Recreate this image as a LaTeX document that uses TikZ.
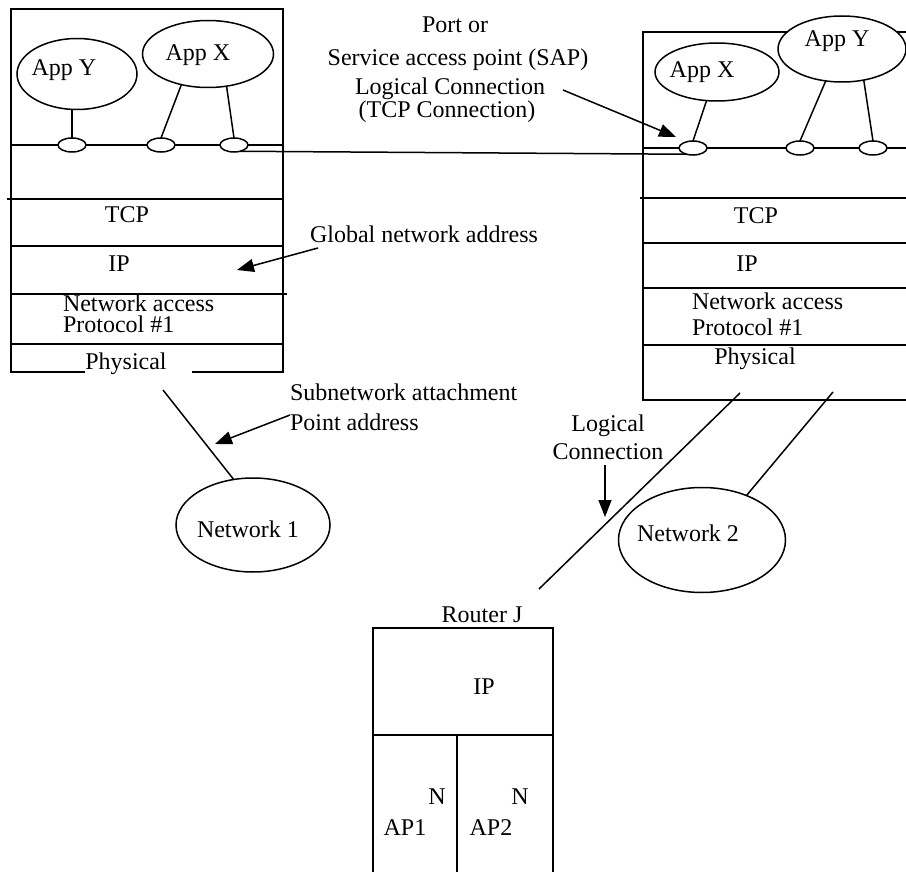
\documentclass[tikz,border=0pt]{standalone}
\usepackage{fontspec}
\setmainfont{Liberation Serif}
\usetikzlibrary{shapes.geometric,arrows.meta}
\begin{document}
\begin{tikzpicture}[x=1pt,y=-1pt,line width=1.5pt,
  every node/.style={inner sep=0pt,outer sep=0pt,font=\fontsize{24}{28}\selectfont},
  txt/.style={text height=16pt,text depth=0pt},
  app/.style={ellipse,draw,fill=white},
  port/.style={ellipse,draw,fill=white,minimum width=28pt,minimum height=14pt},
  net/.style={ellipse,draw},
  pointer/.style={-{Triangle[length=17pt,width=13pt]}}]
\useasboundingbox (0,0) rectangle (906,872);

% ---- host A protocol stack ----
\draw (85,372) -- (11,372) -- (11,9) -- (283,9) -- (283,372) -- (192,372);
\draw (7,199) -- (283,199);
\draw (11,246) -- (283,246);
\draw (11,294) -- (287,294);
\draw (11,344) -- (283,344);
\draw (11,145) -- (283,145);

% ---- host B protocol stack ----
\draw (906,32) -- (643,32) -- (643,400) -- (906,400);
\draw (640,198) -- (906,198);
\draw (643,243) -- (906,243);
\draw (643,288) -- (906,288);
\draw (643,345) -- (906,345);
\draw (643,148) -- (906,148);

% ---- applications on host A ----
\node[app,minimum width=120pt,minimum height=71pt] (LappY) at (77,74) {};
\node[txt] (LappYt) at (64,68) {App Y};
\node[app,minimum width=131pt,minimum height=67pt] (LappX) at (208,54) {};
\node[txt] (LappXt) at (198,53) {App X};
\node[port] (LpY) at (72,145) {};
\node[port] (LpX1) at (161,145) {};
\node[port] (LpX2) at (234,145) {};
\draw (LpY.north) -- (LpY.north |- LappY.south);
\draw (LappX.229) -- (LpX1.north);
\draw (LappX.300) -- (LpX2.north);

% ---- applications on host B ----
\node[app,minimum width=124pt,minimum height=58pt] (RappX) at (717,72) {};
\node[txt] (RappXt) at (702,70) {App X};
\node[app,minimum width=128pt,minimum height=66pt] (RappY) at (842,49) {};
\node[txt] (RappYt) at (837,39) {App Y};
\node[port] (RpX) at (693,148) {};
\node[port] (RpY1) at (800,148) {};
\node[port] (RpY2) at (873,148) {};
\draw (RappX.250) -- (RpX.north);
\draw (RappY.243) -- (RpY1.north);
\draw (RappY.305) -- (RpY2.north);

% logical (TCP) connection between the two ports
\draw (LpX2.-45) -- (RpX.225);

% ---- layer labels, host A ----
\node[txt] (LTCP) at (127,215) {TCP};
\node[txt] (LIP) at (119,264) {IP};
\node[txt,anchor=west] (LNA1) at (63,303) {Network access};
\node[txt,anchor=west] (LNA2) at (63,324) {Protocol \#1};
\node[txt] (LPhy) at (126,361) {Physical};

% ---- layer labels, host B ----
\node[txt] (RTCP) at (756,216) {TCP};
\node[txt] (RIP) at (747,264) {IP};
\node[txt,anchor=west] (RNA1) at (692,301) {Network access};
\node[txt,anchor=west] (RNA2) at (692,327) {Protocol \#1};
\node[txt] (RPhy) at (755,356) {Physical};

% ---- port / SAP annotation ----
\node[txt] (sapA) at (455,25) {Port or};
\node[txt] (sapB) at (458,58) {Service access point (SAP)};
\node[txt] (sapC) at (450,87) {Logical Connection};
\node[txt] (sapD) at (447,110) {(TCP Connection)};
\coordinate (sapTail) at (563,90);
\coordinate (sapTip) at (676,137);
\draw[pointer] (sapTail) -- (sapTip);

% ---- global address annotation ----
\node[txt,anchor=west] (gna) at (310,235) {Global network address};
\coordinate (gnaTail) at (318,248);
\coordinate (gnaTip) at (237,270);
\draw[pointer] (gnaTail) -- (gnaTip);

% ---- networks ----
\node[net,minimum width=154pt,minimum height=94pt] (N1) at (253,525) {};
\node[txt] (N1t) at (248,529) {Network 1};
\node[net,minimum width=167pt,minimum height=105pt] (N2) at (702,540) {};
\node[txt] (N2t) at (688,533) {Network 2};

\coordinate (hAphy) at (163,390);
\draw (hAphy) -- (N1.113);
\coordinate (hBphyA) at (833,392);
\draw (hBphyA) -- (N2.45);
\coordinate (hBphyB) at (740,393);
\coordinate (rtrTop) at (539,589);
\draw (hBphyB) -- (rtrTop);

% ---- subnetwork attachment annotation ----
\node[txt,anchor=west] (sna1) at (290,392) {Subnetwork attachment};
\node[txt,anchor=west] (sna2) at (290,422) {Point address};
\coordinate (snaTail) at (290,415);
\coordinate (snaTip) at (215,444);
\draw[pointer] (snaTail) -- (snaTip);

% ---- logical connection annotation ----
\node[txt] (lcA) at (608,423) {Logical};
\node[txt] (lcB) at (608,451) {Connection};
\coordinate (lcTail) at (605,465);
\coordinate (lcTip) at (605,517);
\draw[pointer] (lcTail) -- (lcTip);

% ---- router ----
\node[txt] (rtrName) at (482,614) {Router J};
\draw (373,872) -- (373,628) -- (553,628) -- (553,872);
\draw (373,735) -- (553,735);
\draw (457,735) -- (457,872);
\node[txt] (rtrIP) at (484,686) {IP};
\node[txt] (rtrN1) at (437,796) {N};
\node[txt] (rtrAP1) at (405,827) {AP1};
\node[txt] (rtrN2) at (520,796) {N};
\node[txt] (rtrAP2) at (491,827) {AP2};
\end{tikzpicture}
\end{document}
